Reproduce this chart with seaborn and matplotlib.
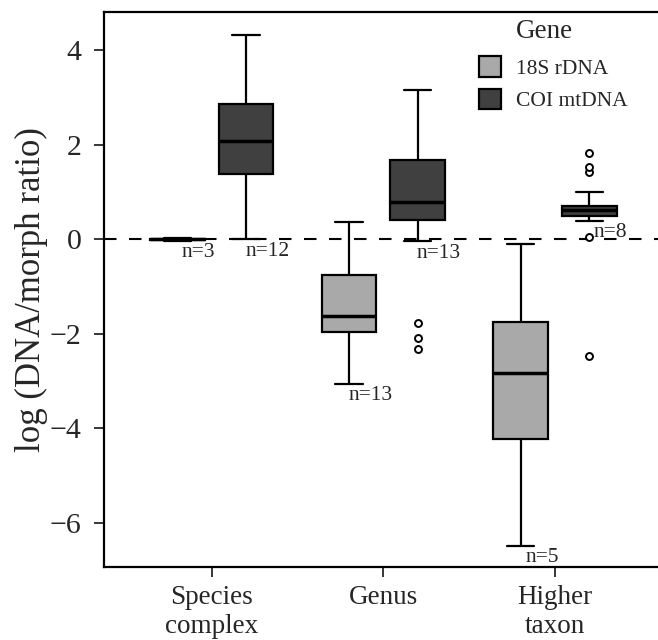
import numpy as np
import pandas as pd
import matplotlib
matplotlib.use("Agg")
import matplotlib.pyplot as plt
import seaborn as sns

# categories and genes
taxa = ["Species\ncomplex", "Genus", "Higher\ntaxon"]
genes = ["18S rDNA", "COI mtDNA"]
gene_colors = ["#a9a9a9", "#404040"]

# log(DNA/morph ratio) values per group
species_18s = [-0.03, 0.0, 0.03]
species_coi = [0.00, 1.38, 2.08, 2.85, 4.32]
genus_18s = [-3.06, -1.97, -1.62, -0.75, 0.36]
genus_coi = [-2.31, -2.08, -1.78, -0.04, 0.40, 0.52, 0.62, 0.70, 0.79,
             0.95, 1.15, 1.40, 1.67, 2.00, 2.40, 2.80, 3.15]
higher_18s = [-6.48, -4.22, -2.83, -1.75, -0.10]
higher_coi = [-2.46, 0.04, 0.39, 0.45, 0.50, 0.54, 0.57, 0.60, 0.62,
              0.64, 0.66, 0.69, 0.71, 0.99, 1.42, 1.52, 1.83]

# number of studies printed under each box
n_species = [3, 12]
n_genus = [13, 13]
n_higher = [5, 8]

groups = [
    (taxa[0], genes[0], species_18s, n_species[0]),
    (taxa[0], genes[1], species_coi, n_species[1]),
    (taxa[1], genes[0], genus_18s, n_genus[0]),
    (taxa[1], genes[1], genus_coi, n_genus[1]),
    (taxa[2], genes[0], higher_18s, n_higher[0]),
    (taxa[2], genes[1], higher_coi, n_higher[1]),
]

rows = []
for taxon, gene, vals, _ in groups:
    for v in vals:
        rows.append({"taxon": taxon, "gene": gene, "ratio": v})
df = pd.DataFrame(rows)

sns.set_style("ticks")
plt.rcParams["font.family"] = ["Liberation Serif", "DejaVu Serif"]

fig = plt.figure(figsize=(6.58, 6.4), dpi=100)
ax = fig.add_axes([0.1573, 0.1141, 0.8427, 0.8667])

ax.axhline(0, color="black", lw=1.5, ls=(0, (6, 6)), zorder=0.5)

sns.boxplot(data=df, x="taxon", y="ratio", hue="gene",
            order=taxa, hue_order=genes, palette=gene_colors,
            saturation=1, width=0.8, gap=0.2,
            linecolor="black", linewidth=1.6,
            medianprops=dict(linewidth=2.5),
            flierprops=dict(marker="o", markerfacecolor="white",
                            markeredgecolor="black", markersize=5,
                            markeredgewidth=1.4),
            ax=ax)

# n labels just below the lower whisker of each box
for taxon, gene, vals, n in groups:
    v = np.asarray(vals)
    q1, q3 = np.percentile(v, [25, 75])
    low = v[v >= q1 - 1.5 * (q3 - q1)].min()
    xpos = taxa.index(taxon) + (-0.2 if gene == genes[0] else 0.2) + 0.125
    ax.text(xpos, low - 0.05, f"n={n}", ha="center", va="top", fontsize=15.5)

ax.set_xlim(-0.63, 2.60)
ax.set_ylim(-6.93, 4.80)
ax.set_yticks([-6, -4, -2, 0, 2, 4])
ax.set_xlabel("")
ax.set_ylabel("log (DNA/morph ratio)", fontsize=25, labelpad=1)
ax.tick_params(axis="y", labelsize=21.5, length=7, width=1.3,
               direction="out", pad=9)
ax.tick_params(axis="x", labelsize=19.5, length=7, width=1.3,
               direction="out", pad=6)
for side in ["left", "top", "bottom"]:
    ax.spines[side].set_linewidth(1.6)
    ax.spines[side].set_color("black")
ax.spines["right"].set_visible(False)

handles, labels = ax.get_legend_handles_labels()
for h in handles:
    h.set_linewidth(1.6)
ax.legend(handles, labels, loc="upper left",
          bbox_to_anchor=(479 / 658, 1 - 56 / 640), bbox_transform=fig.transFigure,
          frameon=False, fontsize=15.5, handlelength=1.0, handleheight=1.1,
          handletextpad=0.7, labelspacing=0.47, borderpad=0, borderaxespad=0)
fig.text(516 / 658, 1 - 31 / 640, "Gene", ha="left", va="center", fontsize=19.5)

fig.savefig("out.png", dpi=100)
